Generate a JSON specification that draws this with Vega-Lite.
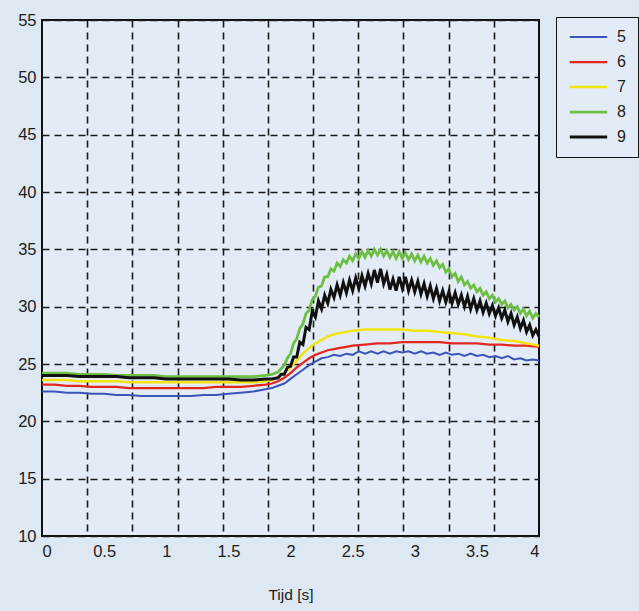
{
  "$schema": "https://vega.github.io/schema/vega-lite/v6.json",
  "autosize": {"type": "none"},
  "padding": {"left": 42, "top": 20, "right": 100, "bottom": 75},
  "width": 497,
  "height": 516,
  "background": "#dde8f3",
  "config": {
    "font": "Liberation Sans",
    "view": {"stroke": "#111", "strokeWidth": 2, "fill": "#e3ecf6"},
    "axisY": {"values": [10, 15, 20, 25, 30, 35, 40, 45, 50, 55], "grid": true, "gridColor": "#1a1a1a", "gridWidth": 1.6, "gridDash": [7, 5], "ticks": false, "domain": false, "labelFontSize": 16.5, "labelColor": "#1c1c1c", "labelPadding": 6, "title": null}
  },
  "data": {"values": [
    {"s":"5","t":0,"v":22.6},{"s":"5","t":0.1,"v":22.6},{"s":"5","t":0.2,"v":22.5},{"s":"5","t":0.3,"v":22.5},{"s":"5","t":0.4,"v":22.4},{"s":"5","t":0.5,"v":22.4},{"s":"5","t":0.6,"v":22.3},{"s":"5","t":0.7,"v":22.3},{"s":"5","t":0.8,"v":22.2},{"s":"5","t":0.9,"v":22.2},{"s":"5","t":1.0,"v":22.2},{"s":"5","t":1.1,"v":22.2},{"s":"5","t":1.2,"v":22.2},{"s":"5","t":1.3,"v":22.3},{"s":"5","t":1.4,"v":22.3},{"s":"5","t":1.5,"v":22.4},{"s":"5","t":1.6,"v":22.5},{"s":"5","t":1.7,"v":22.6},{"s":"5","t":1.8,"v":22.8},{"s":"5","t":1.85,"v":22.9},{"s":"5","t":1.9,"v":23.1},{"s":"5","t":1.95,"v":23.3},{"s":"5","t":2.0,"v":23.7},{"s":"5","t":2.05,"v":24.1},{"s":"5","t":2.1,"v":24.5},{"s":"5","t":2.15,"v":24.9},{"s":"5","t":2.2,"v":25.2},{"s":"5","t":2.25,"v":25.5},{"s":"5","t":2.3,"v":25.6},{"s":"5","t":2.35,"v":25.8},{"s":"5","t":2.4,"v":25.7},{"s":"5","t":2.45,"v":25.9},{"s":"5","t":2.5,"v":25.8},{"s":"5","t":2.55,"v":26.1},{"s":"5","t":2.6,"v":25.9},{"s":"5","t":2.65,"v":26.1},{"s":"5","t":2.7,"v":25.9},{"s":"5","t":2.75,"v":26.1},{"s":"5","t":2.8,"v":25.9},{"s":"5","t":2.85,"v":26.1},{"s":"5","t":2.9,"v":26.0},{"s":"5","t":2.95,"v":26.1},{"s":"5","t":3.0,"v":25.9},{"s":"5","t":3.05,"v":26.1},{"s":"5","t":3.1,"v":25.9},{"s":"5","t":3.15,"v":26.0},{"s":"5","t":3.2,"v":25.8},{"s":"5","t":3.25,"v":26.0},{"s":"5","t":3.3,"v":25.8},{"s":"5","t":3.35,"v":25.9},{"s":"5","t":3.4,"v":25.7},{"s":"5","t":3.45,"v":25.9},{"s":"5","t":3.5,"v":25.7},{"s":"5","t":3.55,"v":25.8},{"s":"5","t":3.6,"v":25.6},{"s":"5","t":3.65,"v":25.7},{"s":"5","t":3.7,"v":25.5},{"s":"5","t":3.75,"v":25.7},{"s":"5","t":3.8,"v":25.4},{"s":"5","t":3.85,"v":25.5},{"s":"5","t":3.9,"v":25.3},{"s":"5","t":3.95,"v":25.4},{"s":"5","t":4.0,"v":25.3},
    {"s":"6","t":0,"v":23.2},{"s":"6","t":0.1,"v":23.2},{"s":"6","t":0.2,"v":23.1},{"s":"6","t":0.3,"v":23.1},{"s":"6","t":0.4,"v":23.0},{"s":"6","t":0.5,"v":23.0},{"s":"6","t":0.6,"v":23.0},{"s":"6","t":0.7,"v":22.9},{"s":"6","t":0.8,"v":22.9},{"s":"6","t":0.9,"v":22.9},{"s":"6","t":1.0,"v":22.9},{"s":"6","t":1.1,"v":22.9},{"s":"6","t":1.2,"v":22.9},{"s":"6","t":1.3,"v":22.9},{"s":"6","t":1.4,"v":23.0},{"s":"6","t":1.5,"v":23.0},{"s":"6","t":1.6,"v":23.0},{"s":"6","t":1.7,"v":23.1},{"s":"6","t":1.8,"v":23.2},{"s":"6","t":1.85,"v":23.3},{"s":"6","t":1.9,"v":23.5},{"s":"6","t":1.95,"v":23.8},{"s":"6","t":2.0,"v":24.2},{"s":"6","t":2.05,"v":24.7},{"s":"6","t":2.1,"v":25.1},{"s":"6","t":2.15,"v":25.5},{"s":"6","t":2.2,"v":25.8},{"s":"6","t":2.25,"v":26.0},{"s":"6","t":2.3,"v":26.2},{"s":"6","t":2.35,"v":26.3},{"s":"6","t":2.4,"v":26.4},{"s":"6","t":2.45,"v":26.5},{"s":"6","t":2.5,"v":26.6},{"s":"6","t":2.6,"v":26.7},{"s":"6","t":2.7,"v":26.8},{"s":"6","t":2.8,"v":26.8},{"s":"6","t":2.9,"v":26.9},{"s":"6","t":3.0,"v":26.9},{"s":"6","t":3.1,"v":26.9},{"s":"6","t":3.2,"v":26.9},{"s":"6","t":3.3,"v":26.8},{"s":"6","t":3.4,"v":26.8},{"s":"6","t":3.5,"v":26.8},{"s":"6","t":3.6,"v":26.7},{"s":"6","t":3.7,"v":26.7},{"s":"6","t":3.8,"v":26.6},{"s":"6","t":3.9,"v":26.6},{"s":"6","t":4.0,"v":26.5},
    {"s":"7","t":0,"v":23.6},{"s":"7","t":0.1,"v":23.6},{"s":"7","t":0.2,"v":23.6},{"s":"7","t":0.3,"v":23.5},{"s":"7","t":0.4,"v":23.5},{"s":"7","t":0.5,"v":23.5},{"s":"7","t":0.6,"v":23.5},{"s":"7","t":0.7,"v":23.4},{"s":"7","t":0.8,"v":23.4},{"s":"7","t":0.9,"v":23.4},{"s":"7","t":1.0,"v":23.4},{"s":"7","t":1.1,"v":23.4},{"s":"7","t":1.2,"v":23.4},{"s":"7","t":1.3,"v":23.4},{"s":"7","t":1.4,"v":23.4},{"s":"7","t":1.5,"v":23.4},{"s":"7","t":1.6,"v":23.4},{"s":"7","t":1.7,"v":23.4},{"s":"7","t":1.8,"v":23.5},{"s":"7","t":1.85,"v":23.6},{"s":"7","t":1.9,"v":23.8},{"s":"7","t":1.95,"v":24.2},{"s":"7","t":2.0,"v":24.7},{"s":"7","t":2.05,"v":25.3},{"s":"7","t":2.1,"v":25.9},{"s":"7","t":2.15,"v":26.4},{"s":"7","t":2.2,"v":26.8},{"s":"7","t":2.25,"v":27.1},{"s":"7","t":2.3,"v":27.4},{"s":"7","t":2.35,"v":27.6},{"s":"7","t":2.4,"v":27.7},{"s":"7","t":2.5,"v":27.9},{"s":"7","t":2.6,"v":28.0},{"s":"7","t":2.7,"v":28.0},{"s":"7","t":2.8,"v":28.0},{"s":"7","t":2.9,"v":28.0},{"s":"7","t":3.0,"v":27.9},{"s":"7","t":3.1,"v":27.9},{"s":"7","t":3.2,"v":27.8},{"s":"7","t":3.3,"v":27.7},{"s":"7","t":3.4,"v":27.6},{"s":"7","t":3.5,"v":27.4},{"s":"7","t":3.6,"v":27.3},{"s":"7","t":3.7,"v":27.1},{"s":"7","t":3.8,"v":27.0},{"s":"7","t":3.9,"v":26.8},{"s":"7","t":4.0,"v":26.6},
    {"s":"8","t":0,"v":24.2},{"s":"8","t":0.1,"v":24.2},{"s":"8","t":0.2,"v":24.2},{"s":"8","t":0.3,"v":24.1},{"s":"8","t":0.4,"v":24.1},{"s":"8","t":0.5,"v":24.1},{"s":"8","t":0.6,"v":24.0},{"s":"8","t":0.7,"v":24.0},{"s":"8","t":0.8,"v":24.0},{"s":"8","t":0.9,"v":24.0},{"s":"8","t":1.0,"v":23.9},{"s":"8","t":1.1,"v":23.9},{"s":"8","t":1.2,"v":23.9},{"s":"8","t":1.3,"v":23.9},{"s":"8","t":1.4,"v":23.9},{"s":"8","t":1.5,"v":23.9},{"s":"8","t":1.6,"v":23.9},{"s":"8","t":1.7,"v":23.9},{"s":"8","t":1.8,"v":24.0},{"s":"8","t":1.85,"v":24.1},
    {"s":"8","t":1.9,"v":24.3},{"s":"8","t":1.925,"v":24.6},{"s":"8","t":1.95,"v":24.9},{"s":"8","t":1.975,"v":25.5},{"s":"8","t":2.0,"v":25.9},{"s":"8","t":2.025,"v":26.8},{"s":"8","t":2.05,"v":27.2},{"s":"8","t":2.075,"v":28.1},{"s":"8","t":2.1,"v":28.5},{"s":"8","t":2.125,"v":29.4},{"s":"8","t":2.15,"v":29.7},{"s":"8","t":2.175,"v":30.6},{"s":"8","t":2.2,"v":30.9},{"s":"8","t":2.225,"v":31.7},{"s":"8","t":2.25,"v":31.8},{"s":"8","t":2.275,"v":32.6},{"s":"8","t":2.3,"v":32.6},{"s":"8","t":2.325,"v":33.3},{"s":"8","t":2.35,"v":33.1},{"s":"8","t":2.375,"v":33.8},{"s":"8","t":2.4,"v":33.5},{"s":"8","t":2.425,"v":34.1},{"s":"8","t":2.45,"v":33.8},{"s":"8","t":2.475,"v":34.4},{"s":"8","t":2.5,"v":34.0},{"s":"8","t":2.525,"v":34.6},{"s":"8","t":2.55,"v":34.2},{"s":"8","t":2.575,"v":34.8},{"s":"8","t":2.6,"v":34.3},{"s":"8","t":2.625,"v":34.9},{"s":"8","t":2.65,"v":34.4},{"s":"8","t":2.675,"v":35.0},{"s":"8","t":2.7,"v":34.5},{"s":"8","t":2.725,"v":35.0},{"s":"8","t":2.75,"v":34.4},{"s":"8","t":2.775,"v":34.9},{"s":"8","t":2.8,"v":34.3},{"s":"8","t":2.825,"v":34.8},{"s":"8","t":2.85,"v":34.2},{"s":"8","t":2.875,"v":34.8},{"s":"8","t":2.9,"v":34.2},{"s":"8","t":2.925,"v":34.7},{"s":"8","t":2.95,"v":34.1},{"s":"8","t":2.975,"v":34.6},{"s":"8","t":3.0,"v":34.0},{"s":"8","t":3.025,"v":34.5},{"s":"8","t":3.05,"v":33.9},{"s":"8","t":3.075,"v":34.4},{"s":"8","t":3.1,"v":33.8},{"s":"8","t":3.125,"v":34.2},{"s":"8","t":3.15,"v":33.6},{"s":"8","t":3.175,"v":34.0},{"s":"8","t":3.2,"v":33.4},{"s":"8","t":3.225,"v":33.7},{"s":"8","t":3.25,"v":33.0},{"s":"8","t":3.275,"v":33.3},{"s":"8","t":3.3,"v":32.6},{"s":"8","t":3.325,"v":32.9},{"s":"8","t":3.35,"v":32.2},{"s":"8","t":3.375,"v":32.6},{"s":"8","t":3.4,"v":31.9},{"s":"8","t":3.425,"v":32.2},{"s":"8","t":3.45,"v":31.6},{"s":"8","t":3.475,"v":31.9},{"s":"8","t":3.5,"v":31.3},{"s":"8","t":3.525,"v":31.6},{"s":"8","t":3.55,"v":31.0},{"s":"8","t":3.575,"v":31.3},{"s":"8","t":3.6,"v":30.7},{"s":"8","t":3.625,"v":31.0},{"s":"8","t":3.65,"v":30.4},{"s":"8","t":3.675,"v":30.7},{"s":"8","t":3.7,"v":30.2},{"s":"8","t":3.725,"v":30.5},{"s":"8","t":3.75,"v":29.9},{"s":"8","t":3.775,"v":30.2},{"s":"8","t":3.8,"v":29.7},{"s":"8","t":3.825,"v":30.0},{"s":"8","t":3.85,"v":29.4},{"s":"8","t":3.875,"v":29.8},{"s":"8","t":3.9,"v":29.2},{"s":"8","t":3.925,"v":29.6},{"s":"8","t":3.95,"v":29.0},{"s":"8","t":3.975,"v":29.4},{"s":"8","t":4.0,"v":29.1},
    {"s":"9","t":0,"v":24.0},{"s":"9","t":0.1,"v":24.0},{"s":"9","t":0.2,"v":24.0},{"s":"9","t":0.3,"v":23.9},{"s":"9","t":0.4,"v":23.9},{"s":"9","t":0.5,"v":23.9},{"s":"9","t":0.6,"v":23.9},{"s":"9","t":0.7,"v":23.8},{"s":"9","t":0.8,"v":23.8},{"s":"9","t":0.9,"v":23.8},{"s":"9","t":1.0,"v":23.7},{"s":"9","t":1.1,"v":23.7},{"s":"9","t":1.2,"v":23.7},{"s":"9","t":1.3,"v":23.7},{"s":"9","t":1.4,"v":23.7},{"s":"9","t":1.5,"v":23.7},{"s":"9","t":1.6,"v":23.6},{"s":"9","t":1.7,"v":23.6},{"s":"9","t":1.8,"v":23.7},{"s":"9","t":1.85,"v":23.7},
    {"s":"9","t":1.9,"v":23.8},{"s":"9","t":1.925,"v":24.1},{"s":"9","t":1.95,"v":24.1},{"s":"9","t":1.975,"v":24.7},{"s":"9","t":2.0,"v":24.8},{"s":"9","t":2.025,"v":25.6},{"s":"9","t":2.05,"v":25.6},{"s":"9","t":2.075,"v":26.9},{"s":"9","t":2.1,"v":26.7},{"s":"9","t":2.125,"v":28.2},{"s":"9","t":2.15,"v":28.0},{"s":"9","t":2.175,"v":29.6},{"s":"9","t":2.2,"v":29.1},{"s":"9","t":2.225,"v":30.5},{"s":"9","t":2.25,"v":29.8},{"s":"9","t":2.275,"v":31.0},{"s":"9","t":2.3,"v":30.3},{"s":"9","t":2.325,"v":31.5},{"s":"9","t":2.35,"v":30.8},{"s":"9","t":2.375,"v":31.9},{"s":"9","t":2.4,"v":31.0},{"s":"9","t":2.425,"v":32.1},{"s":"9","t":2.45,"v":31.2},{"s":"9","t":2.475,"v":32.3},{"s":"9","t":2.5,"v":31.4},{"s":"9","t":2.525,"v":32.5},{"s":"9","t":2.55,"v":31.6},{"s":"9","t":2.575,"v":32.7},{"s":"9","t":2.6,"v":31.8},{"s":"9","t":2.625,"v":32.9},{"s":"9","t":2.65,"v":32.0},{"s":"9","t":2.675,"v":33.2},{"s":"9","t":2.7,"v":32.1},{"s":"9","t":2.725,"v":33.3},{"s":"9","t":2.75,"v":32.0},{"s":"9","t":2.775,"v":32.8},{"s":"9","t":2.8,"v":31.5},{"s":"9","t":2.825,"v":32.4},{"s":"9","t":2.85,"v":31.4},{"s":"9","t":2.875,"v":32.6},{"s":"9","t":2.9,"v":31.6},{"s":"9","t":2.925,"v":32.6},{"s":"9","t":2.95,"v":31.4},{"s":"9","t":2.975,"v":32.3},{"s":"9","t":3.0,"v":31.3},{"s":"9","t":3.025,"v":32.2},{"s":"9","t":3.05,"v":31.1},{"s":"9","t":3.075,"v":32.0},{"s":"9","t":3.1,"v":30.9},{"s":"9","t":3.125,"v":31.8},{"s":"9","t":3.15,"v":30.7},{"s":"9","t":3.175,"v":31.6},{"s":"9","t":3.2,"v":30.5},{"s":"9","t":3.225,"v":31.4},{"s":"9","t":3.25,"v":30.4},{"s":"9","t":3.275,"v":31.3},{"s":"9","t":3.3,"v":30.3},{"s":"9","t":3.325,"v":31.2},{"s":"9","t":3.35,"v":30.2},{"s":"9","t":3.375,"v":31.0},{"s":"9","t":3.4,"v":30.0},{"s":"9","t":3.425,"v":30.9},{"s":"9","t":3.45,"v":29.8},{"s":"9","t":3.475,"v":30.7},{"s":"9","t":3.5,"v":29.7},{"s":"9","t":3.525,"v":30.5},{"s":"9","t":3.55,"v":29.5},{"s":"9","t":3.575,"v":30.3},{"s":"9","t":3.6,"v":29.4},{"s":"9","t":3.625,"v":30.1},{"s":"9","t":3.65,"v":29.2},{"s":"9","t":3.675,"v":29.9},{"s":"9","t":3.7,"v":29.0},{"s":"9","t":3.725,"v":29.7},{"s":"9","t":3.75,"v":28.7},{"s":"9","t":3.775,"v":29.4},{"s":"9","t":3.8,"v":28.4},{"s":"9","t":3.825,"v":29.1},{"s":"9","t":3.85,"v":28.1},{"s":"9","t":3.875,"v":28.8},{"s":"9","t":3.9,"v":27.8},{"s":"9","t":3.925,"v":28.4},{"s":"9","t":3.95,"v":27.5},{"s":"9","t":3.975,"v":28.0},{"s":"9","t":4.0,"v":27.4}
  ]},
  "layer": [
    {
      "mark": {"type": "line", "opacity": 0},
      "encoding": {
        "x": {"field": "t", "type": "quantitative", "scale": {"domain": [0, 4], "nice": false},
          "axis": {"orient": "bottom", "values": [0.3636, 0.7273, 1.0909, 1.4545, 1.8182, 2.1818, 2.5455, 2.9091, 3.2727, 3.6364], "grid": true, "gridColor": "#1a1a1a", "gridWidth": 1.6, "gridDash": [7, 5], "labels": false, "ticks": false, "domain": false, "title": null}},
        "y": {"field": "v", "type": "quantitative", "scale": {"domain": [10, 55], "nice": false}},
        "detail": {"field": "s"}
      }
    },
    {
      "mark": {"type": "line", "interpolate": "linear"},
      "encoding": {
        "x": {"field": "t", "type": "quantitative", "scale": {"domain": [0, 4], "nice": false},
          "axis": {"orient": "bottom", "values": [0, 0.5, 1, 1.5, 2, 2.5, 3, 3.5, 4], "format": "~g", "grid": false, "domain": false, "ticks": false, "labelFontSize": 16.5, "labelColor": "#1c1c1c", "labelPadding": 7, "title": "Tijd [s]", "titleFontSize": 15.5, "titleFontWeight": "normal", "titleColor": "#1c1c1c", "titlePadding": 28}},
        "y": {"field": "v", "type": "quantitative", "scale": {"domain": [10, 55], "nice": false}},
        "color": {"field": "s", "type": "nominal",
          "scale": {"domain": ["5", "6", "7", "8", "9"], "range": ["#3b54b8", "#e3261f", "#f2e40f", "#6dbf44", "#111111"]},
          "legend": {"orient": "none", "legendX": 514, "legendY": -3, "title": null, "symbolType": "stroke", "symbolSize": 1400, "symbolStrokeWidth": 2, "clipHeight": 16, "labelFontSize": 16, "labelColor": "#1c1c1c", "labelOffset": 8, "rowPadding": 9, "padding": 12, "strokeColor": "#111", "fillColor": "#e3ecf6"}},
        "strokeWidth": {"field": "s", "type": "nominal", "scale": {"domain": ["5", "6", "7", "8", "9"], "range": [2, 3, 5, 3, 4]}, "legend": null}
      }
    }
  ],
  "resolve": {"axis": {"x": "independent"}}
}
